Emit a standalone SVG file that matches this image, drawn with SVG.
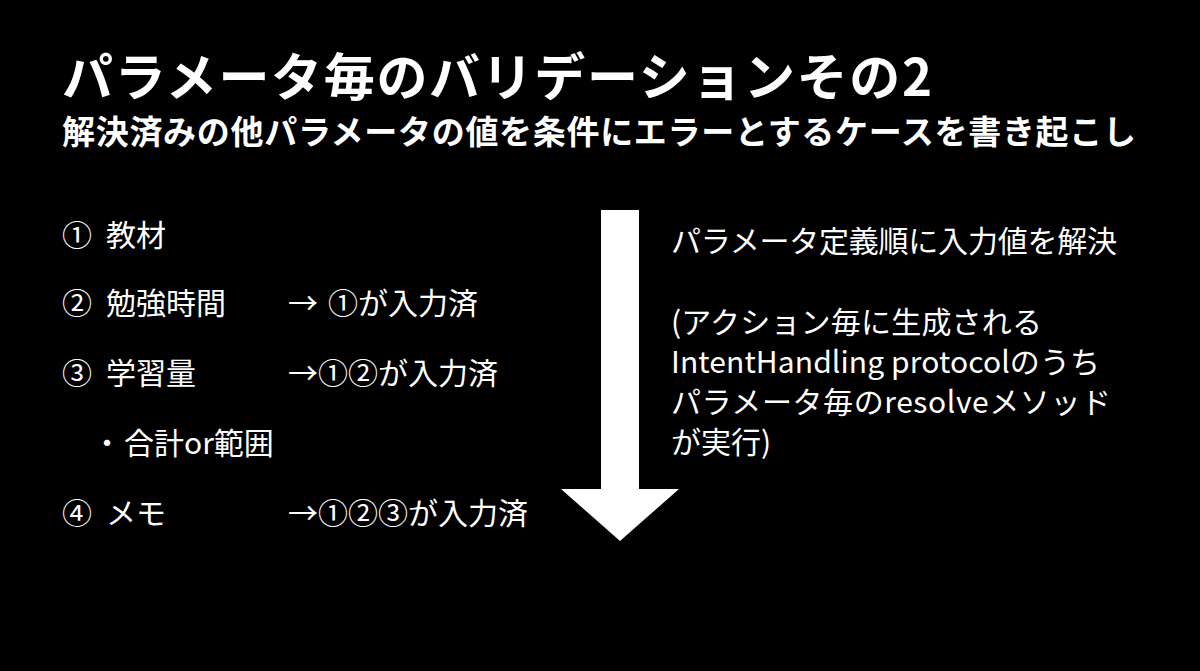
<svg xmlns="http://www.w3.org/2000/svg" width="1200" height="671" viewBox="0 0 1200 671">
<style>
text{fill:#fff;font-family:"Noto Sans CJK JP","Noto Sans",sans-serif;}
.t{font-size:51px;font-weight:700;}
.s{font-size:33px;font-weight:700;}
.l{font-size:30px;}
.r{font-size:30px;}
</style>
<rect x="0" y="0" width="1200" height="671" fill="#000"/>
<text class="t" x="62" y="96" textLength="870" lengthAdjust="spacing">パラメータ毎のバリデーションその2</text>
<text class="s" x="62" y="144" textLength="1074" lengthAdjust="spacing">解決済みの他パラメータの値を条件にエラーとするケースを書き起こし</text>
<g id="list">
<text class="l" x="62" y="246">①</text><text class="l" x="106" y="246">教材</text>
<text class="l" x="62" y="314">②</text><text class="l" x="106" y="314">勉強時間</text>
<text class="l" x="288" y="314">→</text><text class="l" x="328" y="314">①が入力済</text>
<text class="l" x="62" y="384">③</text><text class="l" x="106" y="384">学習量</text>
<text class="l" x="288" y="384" textLength="210" lengthAdjust="spacing">→①②が入力済</text>
<text class="l" x="92" y="454">・</text><text class="l" x="124" y="454">合計or範囲</text>
<text class="l" x="62" y="524">④</text><text class="l" x="106" y="524">メモ</text>
<text class="l" x="288" y="524" textLength="240" lengthAdjust="spacing">→①②③が入力済</text>
</g>
<g id="arrow">
<polygon points="601,210 639,210 639,489 679,489 620,541 561,489 601,489" fill="#fff"/>
</g>
<g id="note">
<text class="r" x="671" y="252" textLength="446" lengthAdjust="spacing">パラメータ定義順に入力値を解決</text>
<text class="r" x="671" y="333" textLength="371" lengthAdjust="spacing">(アクション毎に生成される</text>
<text class="r" x="671" y="373" textLength="429" lengthAdjust="spacing">IntentHandling protocolのうち</text>
<text class="r" x="671" y="413" textLength="440" lengthAdjust="spacing">パラメータ毎のresolveメソッド</text>
<text class="r" x="671" y="453">が実行)</text>
</g>
</svg>
